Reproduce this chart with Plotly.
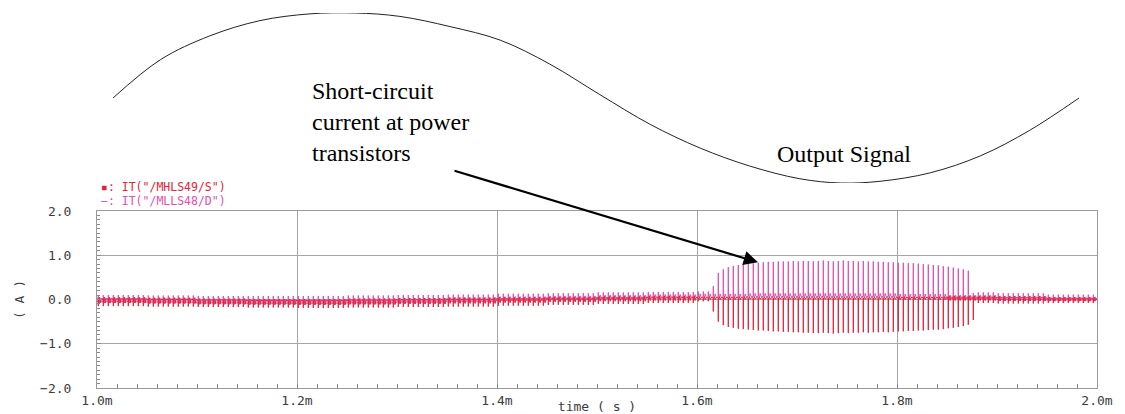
import numpy as np
import plotly.graph_objects as go

W, H = 1125, 414

# ---- switching-current waveforms (seconds / amperes) ----
T_START, T_STOP = 1.0e-3, 2.0e-3
SWITCH_PERIOD = 5e-6          # one switching cycle
CYCLES_PER_SEG = 10           # envelope segments of 50 us

# ripple band of each current per 50 us segment (min / max, A)
HS_LO = [-0.15, -0.16, -0.17, -0.18, -0.19, -0.18, -0.17, -0.16, -0.14, -0.12,
         -0.10, -0.08, -0.04, -0.02, -0.02, -0.02, -0.04, -0.08, -0.09, -0.08]
HS_HI = [0.05, 0.04, 0.02, 0.01, 0.01, 0.02, 0.03, 0.04, 0.05, 0.06,
         0.07, 0.08, 0.06, 0.05, 0.05, 0.05, 0.06, 0.08, 0.07, 0.05]
LS_LO = [-0.08, -0.09, -0.11, -0.12, -0.12, -0.11, -0.09, -0.07, -0.05, -0.03,
         -0.01, 0.01, 0.03, 0.04, 0.04, 0.04, 0.02, -0.01, -0.03, -0.04]
LS_HI = [0.10, 0.09, 0.08, 0.08, 0.08, 0.09, 0.10, 0.11, 0.13, 0.14,
         0.16, 0.17, 0.18, 0.19, 0.19, 0.19, 0.18, 0.16, 0.14, 0.11]

# short-circuit spikes, one per switching cycle starting at cycle 123
SPIKE_FIRST_CYCLE = 123
LS_SPIKE = [0.30, 0.60, 0.68, 0.73, 0.76, 0.78, 0.80, 0.81, 0.82, 0.83,
            0.84, 0.85, 0.85, 0.86, 0.86, 0.86, 0.87, 0.86, 0.87, 0.87,
            0.86, 0.87, 0.88, 0.87, 0.86, 0.87, 0.88, 0.87, 0.87, 0.86,
            0.87, 0.86, 0.86, 0.85, 0.85, 0.84, 0.84, 0.83, 0.83, 0.82,
            0.82, 0.81, 0.80, 0.79, 0.78, 0.77, 0.75, 0.74, 0.72, 0.70,
            0.68, 0.65, 0.15]
HS_SPIKE = [-0.27, -0.50, -0.58, -0.62, -0.64, -0.66, -0.67, -0.68, -0.69, -0.70,
            -0.70, -0.71, -0.72, -0.72, -0.73, -0.73, -0.74, -0.74, -0.75, -0.75,
            -0.76, -0.76, -0.75, -0.76, -0.77, -0.76, -0.75, -0.76, -0.75, -0.75,
            -0.74, -0.75, -0.74, -0.74, -0.73, -0.74, -0.73, -0.72, -0.72, -0.71,
            -0.71, -0.70, -0.70, -0.69, -0.68, -0.68, -0.67, -0.65, -0.64, -0.62,
            -0.60, -0.57, -0.46]

# shape of one cycle: phase within the period, position inside the ripple band
CYCLE_PHASE = [0.00, 0.22, 0.26, 0.30, 0.50, 0.62, 0.80]
HS_SHAPE = [0.9, 0.7, 0.0, 0.8, 1.0, 0.35, 0.75]
LS_SHAPE = [0.1, 0.3, 1.0, 0.2, 0.0, 0.65, 0.25]
SPIKE_INDEX = 2

# ---- sketched output signal above the plot (phase 0..1, normalised level) ----
OUT_PHASE = [0.0, 0.049, 0.100, 0.152, 0.204, 0.251, 0.297, 0.349, 0.401, 0.452,
             0.504, 0.556, 0.608, 0.659, 0.711, 0.753, 0.794, 0.846, 0.898, 0.949, 1.0]
OUT_LEVEL = [0.0, 0.45, 0.73, 0.91, 0.99, 1.0, 0.96, 0.84, 0.68, 0.40,
             0.04, -0.31, -0.59, -0.80, -0.95, -1.0, -0.98, -0.88, -0.68, -0.38, 0.0]

X_TICKS = [1.0e-3, 1.2e-3, 1.4e-3, 1.6e-3, 1.8e-3, 2.0e-3]
X_LABELS = ["1.0m", "1.2m", "1.4m", "1.6m", "1.8m", "2.0m"]
Y_TICKS = [-2.0, -1.0, 0.0, 1.0, 2.0]
Y_LABELS = ["\u22122.0", "\u22121.0", "0.0", "1.0", "2.0"]

HS_COLOR = "#e0243c"
LS_COLOR = "#e24fae"
INK = "#3c3c3c"
GRID = "#a6a6a6"
MONO = "DejaVu Sans Mono"


def build_wave(lo, hi, shape, spikes):
    n_cycles = int(round((T_STOP - T_START) / SWITCH_PERIOD))
    t, v = [], []
    for k in range(n_cycles):
        seg = k // CYCLES_PER_SEG
        t0 = T_START + k * SWITCH_PERIOD
        for j, (ph, s) in enumerate(zip(CYCLE_PHASE, shape)):
            val = lo[seg] + s * (hi[seg] - lo[seg])
            i = k - SPIKE_FIRST_CYCLE
            if j == SPIKE_INDEX and 0 <= i < len(spikes):
                val = spikes[i]
            t.append(t0 + ph * SWITCH_PERIOD)
            v.append(val)
    t.append(T_STOP)
    v.append((lo[-1] + hi[-1]) / 2)
    return np.array(t), np.array(v)


t_hs, i_hs = build_wave(HS_LO, HS_HI, HS_SHAPE, HS_SPIKE)
t_ls, i_ls = build_wave(LS_LO, LS_HI, LS_SHAPE, LS_SPIKE)

fig = go.Figure()
fig.add_trace(go.Scatter(x=t_ls, y=i_ls, mode="lines", name='IT("/MLLS48/D")',
                         line=dict(color=LS_COLOR, width=1), hoverinfo="skip"))
fig.add_trace(go.Scatter(x=t_hs, y=i_hs, mode="lines", name='IT("/MHLS49/S")',
                         line=dict(color=HS_COLOR, width=1), hoverinfo="skip"))
fig.add_trace(go.Scatter(x=OUT_PHASE, y=OUT_LEVEL, mode="lines", name="Output Signal",
                         line=dict(color="#222222", width=1, shape="spline"),
                         xaxis="x2", yaxis="y2", hoverinfo="skip"))

px = lambda x: x / W
py = lambda y: 1 - y / H

axis_common = dict(showline=True, linecolor="#9a9a9a", linewidth=1, mirror=True,
                   showgrid=True, gridcolor=GRID, gridwidth=1, zeroline=False,
                   ticks="inside", ticklen=4, tickcolor="#8a8a8a", automargin=False,
                   tickfont=dict(family=MONO, size=13, color=INK))

fig.update_layout(
    width=W, height=H, margin=dict(l=0, r=0, t=0, b=0, autoexpand=False),
    paper_bgcolor="white", plot_bgcolor="white", showlegend=False,
    xaxis=dict(domain=[px(97), px(1097)], range=[T_START, T_STOP],
               tickmode="array", tickvals=X_TICKS, ticktext=X_LABELS,
               minor=dict(tickvals=list(np.arange(1.0e-3, 2.0e-3 + 1e-9, 2e-5)),
                          ticks="inside", ticklen=4, tickcolor="#8a8a8a", showgrid=False),
               title=dict(text="time ( s )", standoff=2,
                          font=dict(family=MONO, size=13, color=INK)),
               anchor="y", **axis_common),
    yaxis=dict(domain=[py(388), py(211)], range=[-2.0, 2.0],
               tickmode="array", tickvals=Y_TICKS, ticktext=Y_LABELS,
               minor=dict(tickvals=list(np.arange(-2.0, 2.0001, 0.1)),
                          ticks="inside", ticklen=3, tickcolor="#8a8a8a", showgrid=False),
               title=dict(text="( A )", standoff=12,
                          font=dict(family=MONO, size=13, color=INK)),
               ticklabelstandoff=22, anchor="x", **axis_common),
    xaxis2=dict(domain=[px(113), px(1079)], range=[0, 1], visible=False, anchor="y2",
                automargin=False),
    yaxis2=dict(domain=[py(183), py(13)], range=[-1, 1], visible=False, anchor="x2",
                automargin=False),
)

serif = dict(family="Liberation Serif", size=24, color="black")
for text, y in [("Short-circuit", 91), ("current at power", 122), ("transistors", 153)]:
    fig.add_annotation(text=text, xref="paper", yref="paper", x=px(310), y=py(y),
                       xanchor="left", yanchor="middle", showarrow=False, font=serif)
fig.add_annotation(text="Output Signal", xref="paper", yref="paper", x=px(775), y=py(154),
                   xanchor="left", yanchor="middle", showarrow=False, font=serif)

# arrow pointing at the short-circuit spikes
fig.add_annotation(text="", x=1.661e-3, y=0.84, xref="x", yref="y",
                   ax=-305, ay=-92, axref="pixel", ayref="pixel",
                   showarrow=True, arrowhead=2, arrowsize=1.3, arrowwidth=2.2,
                   arrowcolor="black", standoff=0)

# trace labels
for text, color, y in [("\u25aa: IT(\"/MHLS49/S\")", HS_COLOR, 187),
                       ("\u2212: IT(\"/MLLS48/D\")", LS_COLOR, 201)]:
    fig.add_annotation(text=text, xref="paper", yref="paper", x=px(99), y=py(y),
                       xanchor="left", yanchor="middle", showarrow=False,
                       font=dict(family=MONO, size=11.5, color=color))

fig.write_html("out.html")
